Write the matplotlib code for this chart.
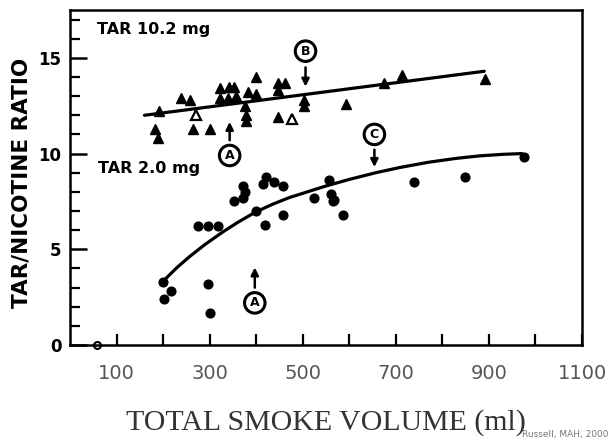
import matplotlib.pyplot as plt

# TAR 10.2 mg cigarettes (triangles)
tri_x = [191, 182, 189, 239, 257, 264, 300, 323, 323, 341, 353, 339, 356, 375,
         378, 378, 399, 382, 400, 447, 461, 447, 447, 503, 503, 592, 675, 713, 892]
tri_y = [12.2, 11.3, 10.8, 12.9, 12.8, 11.3, 11.3, 13.4, 12.9, 13.5, 13.5, 12.9, 13.0, 12.5,
         12.0, 11.7, 14.0, 13.2, 13.1, 13.7, 13.7, 13.3, 11.9, 12.8, 12.5, 12.6, 13.7, 14.1, 13.9]
# open triangles
otri_x = [271, 478]
otri_y = [12.0, 11.8]

# TAR 2.0 mg cigarettes (dots)
dot_x = [200, 217, 203, 296, 300, 275, 296, 318, 353, 371, 371, 375, 399, 418,
         457, 414, 421, 439, 457, 525, 557, 561, 564, 568, 587, 740, 848, 976]
dot_y = [3.3, 2.8, 2.4, 3.2, 1.65, 6.2, 6.2, 6.2, 7.5, 7.7, 8.3, 8.0, 7.0, 6.25,
         6.8, 8.4, 8.8, 8.5, 8.3, 7.7, 8.6, 7.9, 7.5, 7.55, 6.8, 8.5, 8.8, 9.8]

# fitted curves
hi_fit_x = [160, 890]
hi_fit_y = [12.0, 14.3]
lo_fit_x = [207, 230, 257, 290, 328, 360, 399, 435, 471, 510, 549, 600, 657, 710, 771, 830, 880, 930, 971]
lo_fit_y = [3.5, 4.05, 4.62, 5.25, 5.9, 6.4, 6.95, 7.35, 7.7, 8.0, 8.3, 8.65, 9.0, 9.28, 9.55, 9.75, 9.88, 9.96, 10.0]

# circled letter markers: (letter, x, y, arrow tail y, arrow tip y)
markers = [
    ("B", 506, 15.35, 14.65, 13.35),
    ("C", 654, 11.0, 10.35, 9.15),
    ("A", 343, 9.9, 10.55, 11.8),
    ("A", 397, 2.2, 2.85, 4.2),
]

x_ticks = list(range(100, 1101, 100))
x_labels = [str(t) if t % 200 == 100 else "" for t in x_ticks]

fig = plt.figure(figsize=(6.13, 4.43), dpi=100)
ax = fig.add_axes([70 / 613, 98 / 443, 512 / 613, 335 / 443])

ax.plot(hi_fit_x, hi_fit_y, color="black", lw=2.3, solid_capstyle="round")
ax.plot(lo_fit_x, lo_fit_y, color="black", lw=2.3, solid_capstyle="round",
        solid_joinstyle="round")
ax.plot(tri_x, tri_y, "^", color="black", ms=7, ls="none")
ax.plot(otri_x, otri_y, "^", mfc="white", mec="black", mew=1.6, ms=7, ls="none")
ax.plot(dot_x, dot_y, "o", color="black", ms=6.3, ls="none")
ax.plot([58], [0], "o", mfc="white", mec="black", mew=1.5, ms=5, clip_on=False)

for letter, lx, ly, tail, tip in markers:
    ax.annotate("", xy=(lx, tip), xytext=(lx, tail),
                arrowprops=dict(arrowstyle="-|>", color="black", lw=1.8, mutation_scale=11))
    ax.text(lx, ly, letter, ha="center", va="center", fontsize=9, fontweight="bold",
            bbox=dict(boxstyle="circle,pad=0.3", fc="white", ec="black", lw=2.2))

ax.text(58, 16.5, "TAR 10.2 mg", fontsize=11.5, fontweight="bold", va="center")
ax.text(60, 9.2, "TAR 2.0 mg", fontsize=11.5, fontweight="bold", va="center")

ax.set_xlim(0, 1100)
ax.set_ylim(0, 17.5)
ax.set_xticks(x_ticks)
ax.set_xticklabels(x_labels, fontsize=14, color="#555555")
ax.set_yticks([0, 5, 10, 15])
ax.set_yticklabels(["0", "5", "10", "15"], fontsize=12, fontweight="bold")
ax.set_yticks(range(0, 18), minor=True)
ax.tick_params(axis="x", direction="in", length=8, width=1.6, pad=14)
ax.tick_params(axis="y", which="major", direction="in", length=12, width=1.8, pad=6)
ax.tick_params(axis="y", which="minor", direction="in", length=7, width=1.6)
for s in ax.spines.values():
    s.set_linewidth(1.8)

ax.set_ylabel("TAR/NICOTINE RATIO", fontsize=15.5, fontweight="bold", va="center")
ax.yaxis.set_label_coords(-0.095, 0.484)
ax.set_xlabel("TOTAL SMOKE VOLUME (ml)", family="Liberation Serif", fontsize=21.5,
              color="#333333", va="center")
ax.xaxis.set_label_coords(0.5, -0.23)

fig.text(522 / 613, 1 - 435 / 443, "Russell, MAH, 2000", fontsize=6.5, color="#777777",
         va="center", ha="left")

fig.savefig("out.png", dpi=100)
plt.close(fig)
